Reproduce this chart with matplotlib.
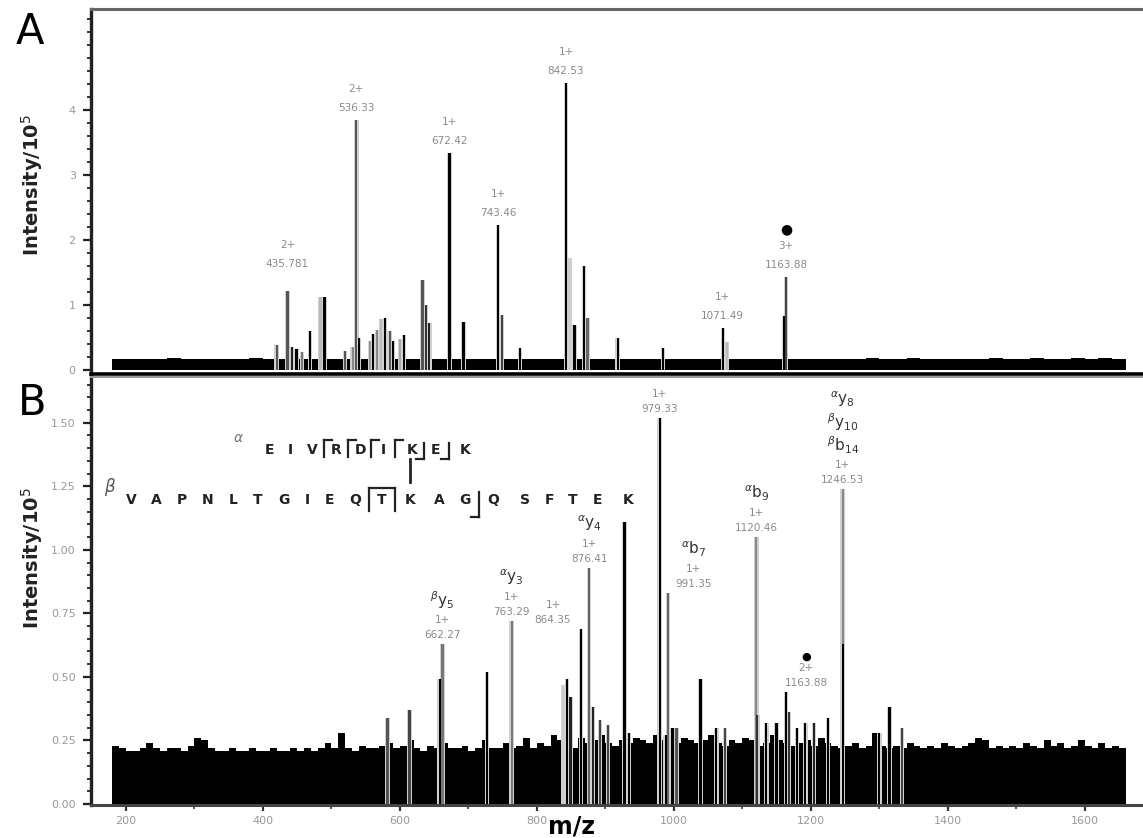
import matplotlib
matplotlib.use("Agg")
import matplotlib.pyplot as plt
from matplotlib.lines import Line2D
from matplotlib.ticker import MultipleLocator
import numpy as np

plt.rcParams["font.family"] = ["DejaVu Sans"]
plt.rcParams["mathtext.fontset"] = "dejavusans"

W, H = 1143, 838

# ---------------- panel A : precursor spectrum ----------------
A_base_mz = np.arange(180, 1660, 20)
A_base_int = [0.17, 0.17, 0.17, 0.17, 0.19, 0.17, 0.17, 0.17, 0.17, 0.17,
              0.18, 0.17, 0.17, 0.17, 0.17, 0.17, 0.17, 0.17, 0.17, 0.17,
              0.17, 0.17, 0.17, 0.17, 0.17, 0.17, 0.17, 0.17, 0.17, 0.17,
              0.17, 0.17, 0.17, 0.17, 0.17, 0.17, 0.17, 0.17, 0.17, 0.17,
              0.17, 0.17, 0.17, 0.17, 0.17, 0.17, 0.17, 0.17, 0.17, 0.17,
              0.17, 0.17, 0.17, 0.17, 0.17, 0.19, 0.17, 0.17, 0.19, 0.17,
              0.17, 0.17, 0.17, 0.17, 0.19, 0.17, 0.17, 0.19, 0.17, 0.17,
              0.19, 0.17, 0.19, 0.17]

A_mz = [420, 435.78, 442, 449, 457, 469, 484, 490, 520, 531, 536.33, 540,
        556, 561, 567, 573, 578, 585, 590, 600, 606, 633, 638, 643, 672.42,
        693, 743.46, 749, 775, 842.53, 848, 855, 869, 874, 918, 984,
        1071.49, 1078, 1163.88, 1161]
A_int = [0.38, 1.22, 0.35, 0.33, 0.28, 0.60, 1.12, 1.12, 0.30, 0.35, 3.85, 0.50,
         0.45, 0.55, 0.62, 0.78, 0.80, 0.60, 0.45, 0.48, 0.54, 1.38, 1.00, 0.72, 3.34,
         0.74, 2.23, 0.85, 0.34, 4.42, 1.72, 0.70, 1.60, 0.80, 0.49, 0.34,
         0.65, 0.43, 1.43, 0.83]
A_col = ["#555", "#555", "#222", "k", "#777", "k", "#bbb", "k", "#555", "#888", "#555", "k",
         "#999", "k", "#888", "#bbb", "k", "#555", "k", "#aaa", "k", "#555", "#333", "#222", "k",
         "k", "k", "#444", "k", "k", "#ccc", "k", "k", "#666", "k", "k",
         "k", "#bbb", "#444", "k"]

# labelled precursor peaks: m/z, intensity, charge, vertical shift (px)
A_lab_mz = [435.78, 536.33, 672.42, 743.46, 842.53, 1071.49, 1163.88]
A_lab_int = [1.22, 3.85, 3.34, 2.23, 4.42, 0.65, 1.43]
A_lab_txt = ["435.781", "536.33", "672.42", "743.46", "842.53", "1071.49", "1163.88"]
A_lab_z = ["2+", "2+", "1+", "1+", "1+", "1+", "3+"]
A_lab_dy = [15, 0, 0, 0, 0, 0, 0]
A_lab_dot = [False, False, False, False, False, False, True]

# ---------------- panel B : MS/MS spectrum ----------------
B_base_mz = np.arange(180, 1660, 10)
B_base_int = [0.23, 0.22, 0.21, 0.21, 0.22, 0.24, 0.22, 0.21, 0.22, 0.22,
              0.21, 0.23, 0.26, 0.25, 0.22, 0.21, 0.21, 0.22, 0.21, 0.21,
              0.22, 0.21, 0.21, 0.22, 0.21, 0.21, 0.22, 0.21, 0.22, 0.21,
              0.22, 0.24, 0.22, 0.28, 0.22, 0.21, 0.23, 0.22, 0.22, 0.23,
              0.24, 0.22, 0.23, 0.25, 0.22, 0.21, 0.23, 0.22, 0.24, 0.22,
              0.22, 0.23, 0.21, 0.22, 0.25, 0.22, 0.22, 0.24, 0.22, 0.23,
              0.26, 0.22, 0.24, 0.23, 0.27, 0.25, 0.24, 0.22, 0.26, 0.24,
              0.25, 0.27, 0.24, 0.23, 0.25, 0.24, 0.26, 0.25, 0.24, 0.27,
              0.25, 0.23, 0.24, 0.26, 0.25, 0.24, 0.25, 0.27, 0.24, 0.23,
              0.25, 0.24, 0.26, 0.25, 0.23, 0.24, 0.27, 0.25, 0.24, 0.23,
              0.24, 0.25, 0.23, 0.26, 0.24, 0.23, 0.22, 0.23, 0.24, 0.22,
              0.23, 0.28, 0.23, 0.22, 0.23, 0.22, 0.24, 0.23, 0.22, 0.23,
              0.22, 0.24, 0.23, 0.22, 0.23, 0.24, 0.26, 0.25, 0.22, 0.23,
              0.22, 0.23, 0.22, 0.24, 0.23, 0.22, 0.25, 0.23, 0.24, 0.22,
              0.23, 0.25, 0.23, 0.22, 0.24, 0.22, 0.23, 0.22]

B_mz = [582, 614, 662.27, 658, 727, 763.29, 838, 844, 849, 864.35, 876.41, 882,
        892, 904, 928, 934, 979.33, 991.35, 988, 998, 1004, 1039, 1062, 1075,
        1120.46, 1122, 1135, 1150, 1163.88, 1168, 1180, 1192, 1205, 1225,
        1246.53, 1246.53, 1300, 1315, 1333]
B_int = [0.34, 0.37, 0.63, 0.49, 0.52, 0.72, 0.47, 0.49, 0.42, 0.69, 0.93, 0.38,
         0.33, 0.31, 1.11, 0.28, 1.52, 0.83, 0.27, 0.30, 0.30, 0.49, 0.30, 0.30,
         1.05, 0.35, 0.32, 0.32, 0.44, 0.36, 0.30, 0.32, 0.32, 0.34,
         1.24, 0.63, 0.28, 0.38, 0.30]
B_col = ["#555", "#444", "#777", "k", "k", "#777", "#ccc", "k", "#222", "k", "#666", "#222",
         "#444", "#444", "k", "k", "k", "#666", "k", "k", "#555", "k", "k", "#444",
         "#888", "#333", "k", "k", "k", "#333", "k", "k", "#222", "k",
         "#888", "k", "k", "k", "#444"]

# labelled fragment peaks: m/z, intensity, ion names (bottom to top), charge, x shift (px)
B_lab_mz = [662.27, 763.29, 864.35, 876.41, 979.33, 991.35, 1120.46, 1163.88, 1246.53]
B_lab_int = [0.63, 0.72, 0.69, 0.93, 1.52, 0.83, 1.05, 0.44, 1.24]
B_lab_txt = ["662.27", "763.29", "864.35", "876.41", "979.33", "991.35", "1120.46",
             "1163.88", "1246.53"]
B_lab_z = ["1+", "1+", "1+", "1+", "1+", "1+", "1+", "2+", "1+"]
B_lab_ions = [[r"$^{\beta}$y$_{5}$"], [r"$^{\alpha}$y$_{3}$"], [], [r"$^{\alpha}$y$_{4}$"], [],
              [r"$^{\alpha}$b$_{7}$"], [r"$^{\alpha}$b$_{9}$"], [],
              [r"$^{\beta}$b$_{14}$", r"$^{\beta}$y$_{10}$", r"$^{\alpha}$y$_{8}$"]]
B_lab_dx = [0, 0, -28, 0, 0, 26, 0, 20, 0]
B_lab_dot = [False, False, False, False, False, False, False, True, False]

# cross-linked peptide sequences
seq_alpha = ["E", "I", "V", "R", "D", "I", "K", "E", "K"]
seq_alpha_x = [270, 290, 312, 336, 360, 383, 412, 436, 465]
seq_beta = ["V", "A", "P", "N", "L", "T", "G", "I", "E", "Q",
            "T", "K", "A", "G", "Q", "S", "F", "T", "E", "K"]
seq_beta_x = [131, 156, 182, 208, 233, 258, 284, 307, 330, 355,
              382, 410, 439, 465, 493, 525, 549, 573, 597, 628]

xticks = [200, 400, 600, 800, 1000, 1200, 1400, 1600]
A_yticks = [0, 1, 2, 3, 4]
B_yticks = [0.0, 0.25, 0.5, 0.75, 1.0, 1.25, 1.5]
B_yticklabels = ["0.00", "0.25", "0.50", "0.75", "1.00", "1.25", "1.50"]

XMIN, XMAX = 149, 1685

fig = plt.figure(figsize=(W / 100, H / 100), dpi=100)


def fx(px):
    return px / W


def fy(py):
    return 1 - py / H


axA = fig.add_axes([fx(91), fy(374), fx(1143) - fx(91), fy(9) - fy(374)])
axB = fig.add_axes([fx(91), fy(805), fx(1143) - fx(91), fy(377) - fy(805)])

PX = 0.72  # points per pixel


def draw_spectrum(ax, bmz, bint, bw, pmz, pint, pcol):
    ax.bar(bmz, bint, width=bw, color="black", linewidth=0, align="edge")
    ax.bar(pmz, pint, width=6.5, color="#d0d0d0", linewidth=0, zorder=2)
    ax.bar(pmz, pint, width=3.2, color=pcol, linewidth=0, zorder=3)


draw_spectrum(axA, A_base_mz, A_base_int, 20, A_mz, A_int, A_col)
draw_spectrum(axB, B_base_mz, B_base_int, 10, B_mz, B_int, B_col)

lab_kw = dict(textcoords="offset points", ha="center", va="center",
              color="#8a8a8a", fontsize=7.5, annotation_clip=False)

for m, h, t, z, dy, dot in zip(A_lab_mz, A_lab_int, A_lab_txt, A_lab_z, A_lab_dy, A_lab_dot):
    axA.annotate(t, (m, h), xytext=(0, (12 + dy) * PX), **lab_kw)
    axA.annotate(z, (m, h), xytext=(0, (31 + dy) * PX), **lab_kw)
    if dot:
        axA.annotate("●", (m, h), xytext=(0, (48 + dy) * PX), textcoords="offset points",
                     ha="center", va="center", fontsize=10, color="black")

for m, h, t, z, ions, dx, dot in zip(B_lab_mz, B_lab_int, B_lab_txt, B_lab_z,
                                     B_lab_ions, B_lab_dx, B_lab_dot):
    axB.annotate(t, (m, h), xytext=(dx * PX, 9 * PX), **lab_kw)
    axB.annotate(z, (m, h), xytext=(dx * PX, 24 * PX), **lab_kw)
    for k, ion in enumerate(ions):
        axB.annotate(ion, (m, h), xytext=(dx * PX, (44 + 23 * k) * PX),
                     textcoords="offset points", ha="center", va="center",
                     fontsize=11, color="#333")
    if dot:
        axB.annotate("●", (m, h), xytext=(dx * PX, 36 * PX), textcoords="offset points",
                     ha="center", va="center", fontsize=8, color="black")

# axes styling
for ax in (axA, axB):
    ax.set_xlim(XMIN, XMAX)
    ax.set_xticks(xticks)
    ax.xaxis.set_minor_locator(MultipleLocator(100))
    ax.spines["right"].set_visible(False)
    ax.spines["left"].set_color("#222")
    ax.spines["left"].set_linewidth(2.4)
    ax.tick_params(axis="y", which="major", direction="out", length=6, width=1.6,
                   color="#222", labelsize=8, labelcolor="#999", pad=5)
    ax.tick_params(axis="y", which="minor", direction="out", length=3, width=1.4,
                   color="#333")

axA.set_ylim(-0.06, 5.55)
axA.set_yticks(A_yticks)
axA.yaxis.set_minor_locator(MultipleLocator(0.2))
axA.tick_params(axis="x", which="both", length=0, labelbottom=False)
axA.spines["top"].set_color("#666")
axA.spines["top"].set_linewidth(2.2)
axA.spines["bottom"].set_color("black")
axA.spines["bottom"].set_linewidth(2.6)

axB.set_ylim(-0.004, 1.68)
axB.set_yticks(B_yticks)
axB.set_yticklabels(B_yticklabels)
axB.yaxis.set_minor_locator(MultipleLocator(0.05))
axB.tick_params(axis="x", which="major", direction="out", length=4, width=1.6,
                color="#333", labelsize=8, labelcolor="#999", pad=4)
axB.tick_params(axis="x", which="minor", direction="out", length=3, width=1.4, color="#555")
axB.spines["top"].set_color("#999")
axB.spines["top"].set_linewidth(1.5)
axB.spines["bottom"].set_color("#444")
axB.spines["bottom"].set_linewidth(2.2)

# panel letters and axis titles
fig.text(fx(30), fy(32), "A", fontsize=30, ha="center", va="center", color="black")
fig.text(fx(32), fy(403), "B", fontsize=30, ha="center", va="center", color="black")
fig.text(fx(32), fy(185), r"Intensity/10$^{5}$", rotation=90, fontsize=14,
         fontweight="bold", ha="center", va="center", color="#222")
fig.text(fx(32), fy(558), r"Intensity/10$^{5}$", rotation=90, fontsize=14,
         fontweight="bold", ha="center", va="center", color="#222")
fig.text(fx(572), fy(826), "m/z", fontsize=17, fontweight="bold",
         ha="center", va="center", color="black")

# peptide sequences with fragmentation marks
fig.text(fx(238), fy(438), r"$\alpha$", fontsize=10, color="#777", ha="center", va="center")
fig.text(fx(110), fy(487), r"$\beta$", fontsize=12, color="#555", ha="center", va="center")
for s, x in zip(seq_alpha, seq_alpha_x):
    fig.text(fx(x), fy(450), s, fontsize=10, fontweight="bold", color="#222",
             ha="center", va="center")
for s, x in zip(seq_beta, seq_beta_x):
    fig.text(fx(x), fy(500), s, fontsize=10, fontweight="bold", color="#222",
             ha="center", va="center")


def seg(x0, y0, x1, y1, lw=1.6, c="#222"):
    fig.add_artist(Line2D([fx(x0), fx(x1)], [fy(y0), fy(y1)], lw=lw, color=c,
                          transform=fig.transFigure))


# b-type cleavage marks (tick on top) and y-type marks (tick on bottom)
for x in (324, 348, 371, 395):
    seg(x, 440, x, 457)
    seg(x, 440, x + 8, 440)
for x in (424, 449):
    seg(x, 443, x, 459)
    seg(x - 8, 459, x, 459)
for x in (369, 395):
    seg(x, 488, x, 511)
seg(369, 488, 395, 488)
seg(479, 492, 479, 517)
seg(471, 517, 479, 517)
# cross-link between the two lysines
seg(410, 459, 410, 482, lw=2.0)

fig.savefig("out.png", dpi=100)
